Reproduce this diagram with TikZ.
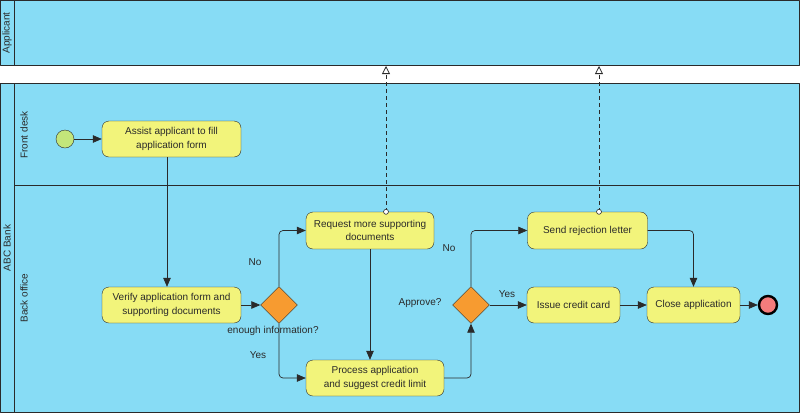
\documentclass[tikz,border=0pt]{standalone}
\usepackage{fontspec}
\setmainfont{Liberation Sans}
\usetikzlibrary{arrows.meta,shapes.geometric,positioning}
\definecolor{poolblue}{HTML}{87DCF5}
\definecolor{taskyellow}{HTML}{F2F47B}
\definecolor{gateorange}{HTML}{F79B30}
\definecolor{startgreen}{HTML}{C3E67A}
\definecolor{endred}{HTML}{F47C7C}
\definecolor{edgegray}{HTML}{2A2A2A}
\begin{document}
\begin{tikzpicture}[x=1pt,y=-1pt,>={Triangle[length=9pt,width=7.5pt]},line join=round,
	font=\fontsize{10}{13.5}\selectfont,text=edgegray,
	pool/.style={draw=edgegray,line width=0.9pt,fill=poolblue},
	task/.style={draw=edgegray,fill=taskyellow,rounded corners=7pt,align=center,inner sep=0pt,minimum height=36pt},
	gate/.style={draw=edgegray,fill=gateorange,diamond,inner sep=0pt,minimum width=37pt,minimum height=37pt},
	flow/.style={->,draw=edgegray,line width=0.7pt,rounded corners=4pt},
	msg/.style={-{Triangle[open,length=8pt,width=8pt]},draw=edgegray,line width=0.8pt,dash pattern=on 4pt off 3pt}]
	\useasboundingbox (0,0) rectangle (800,413);
	% pools and lanes
	\draw[pool] (0.5,0.5) rectangle (799,65);
	\draw[pool] (0.5,83) rectangle (799,412);
	\draw[edgegray,line width=0.9pt] (14,0.5)--(14,65) (14,83)--(14,412);
	\draw[edgegray,line width=0.8pt] (14,185)--(799,185);
	\node[rotate=90] (applicant) at (7,33) {Applicant};
	\node[rotate=90] (bank) at (7,248) {ABC Bank};
	\node[rotate=90] (frontdesk) at (24,135) {Front desk};
	\node[rotate=90] (backoffice) at (24,298) {Back office};
	% events, tasks and gateways
	\node[circle,draw=edgegray,fill=startgreen,minimum size=18pt,inner sep=0pt] (start) at (65,139) {};
	\node[task,minimum width=139pt] (assist) at (171.5,139) {Assist applicant to fill\\application form};
	\node[task,minimum width=139pt] (verify) at (171.5,305) {Verify application form and\\supporting documents};
	\node[gate] (enough) at (279,305) {};
	\node[task,minimum width=128pt,minimum height=37pt] (request) at (370,230.5) {Request more supporting\\documents};
	\node[task,minimum width=138pt] (process) at (375,378) {Process application\\and suggest credit limit};
	\node[gate] (approve) at (471,305) {};
	\node[task,minimum width=120pt,minimum height=37pt] (reject) at (587.5,230.5) {Send rejection letter};
	\node[task,minimum width=93pt] (issue) at (573.5,305) {Issue credit card};
	\node[task,minimum width=93pt] (close) at (693.5,305) {Close application};
	\node[circle,draw=black,line width=2.4pt,fill=endred,minimum size=18pt,inner sep=0pt] (finish) at (768,305) {};
	% gateway labels
	\node (enoughlabel) at (273,331) {enough information?};
	\node (approvelabel) at (420,303) {Approve?};
	\node (no1) at (255,262) {No};
	\node (yes1) at (258,355) {Yes};
	\node (no2) at (449,248) {No};
	\node (yes2) at (507,294) {Yes};
	% sequence flows
	\draw[flow] (start)--(assist);
	\draw[flow] ([xshift=-4.5pt]assist.south)--([xshift=-4.5pt]verify.north);
	\draw[flow] (verify)--(enough);
	\draw[flow] (enough.north)|-(request.west);
	\draw[flow] (enough.south)|-(process.west);
	\draw[flow] (request.south)--(request.south|-process.north);
	\draw[flow] (process.east)-|(approve.south);
	\draw[flow] (approve.north)|-(reject.west);
	\draw[flow] (approve)--(issue);
	\draw[flow] (issue)--(close);
	\draw[flow] (reject.east)-|(close.north);
	\draw[flow] (close)--(finish);
	% message flows
	\coordinate (msgreq) at ([xshift=16pt]request.north);
	\coordinate (msgrej) at ([xshift=11.5pt]reject.north);
	\coordinate (applreq) at (msgreq|-0,66);
	\coordinate (applrej) at (msgrej|-0,66);
	\draw[msg] (msgreq)--(applreq);
	\draw[msg] (msgrej)--(applrej);
	\filldraw[draw=edgegray,fill=white,line width=0.6pt] (msgreq) circle(2.5pt) (msgrej) circle(2.5pt);
\end{tikzpicture}
\end{document}
